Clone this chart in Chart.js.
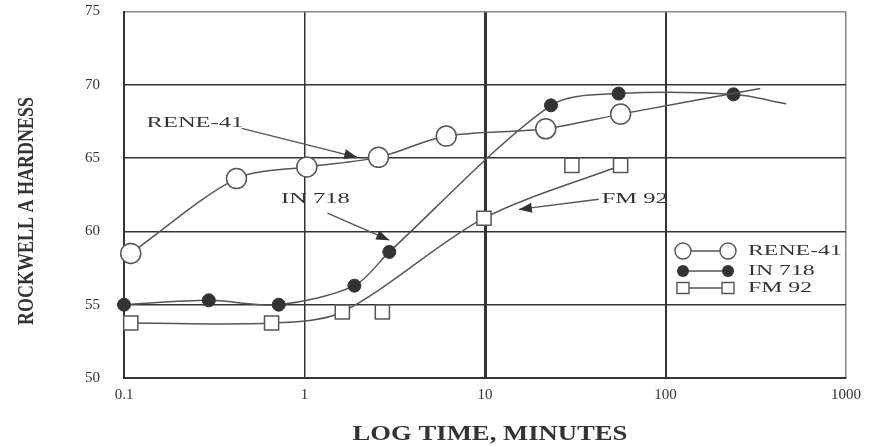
<!DOCTYPE html>
<html>
<head>
<meta charset="utf-8">
<script src="https://cdn.jsdelivr.net/npm/chart.js@4.4.1/dist/chart.umd.min.js"></script>
<style>
  html, body { margin: 0; padding: 0; background: #fff; }
  #wrap { width: 880px; height: 446px; }
</style>
</head>
<body>
<div id="wrap"><canvas id="c"></canvas></div>
<script>
// tick values
const xTicks = [0.1, 1, 10, 100, 1000];
const yTicks = [50, 55, 60, 65, 70, 75];

// RENE-41 (open circles), last point is the curve end without a marker
const reneTime = [0.109, 0.42, 1.03, 2.57, 6.1, 21.7, 56.4, 335];
const reneHard = [58.5, 63.6, 64.4, 65.05, 66.5, 67.0, 68.0, 69.75];

// IN 718 (filled markers), last point is the curve end without a marker
const inTime = [0.1, 0.295, 0.72, 1.89, 2.95, 23.2, 55.0, 238, 466];
const inHard = [55.0, 55.3, 55.0, 56.3, 58.6, 68.6, 69.4, 69.35, 68.7];

// FM 92 (open squares) on the curve, plus two squares lying off it
const fmTime = [0.109, 0.657, 1.62, 9.87, 56.4];
const fmHard = [53.75, 53.75, 54.5, 60.9, 64.5];
const fmLooseTime = [2.7, 30.3];
const fmLooseHard = [54.5, 64.5];

// callout labels with arrows (data units)
const noteText = ['RENE-41', 'IN 718', 'FM 92'];
const noteTextX = [0.247, 1.15, 67.5];
const noteTextY = [67.37, 62.19, 62.19];
const noteFromX = [0.449, 1.34, 42.7];
const noteFromY = [67.03, 61.24, 62.19];
const noteToX = [1.96, 2.95, 15.4];
const noteToY = [65.05, 59.4, 61.5];

const seriesNames = ['RENE-41', 'IN 718', 'FM 92'];

const SERIF = "'Liberation Serif', 'DejaVu Serif', serif";
const INK = '#333';
const LINE = '#555';

const pts = (xs, ys) => xs.map((v, i) => ({ x: v, y: ys[i] }));

function stretchText(ctx, text, cx, cy, font, sx) {
  ctx.save();
  ctx.font = font;
  ctx.textAlign = 'center';
  ctx.textBaseline = 'middle';
  ctx.translate(cx, cy);
  ctx.scale(sx, 1);
  ctx.fillText(text, 0, 0);
  ctx.restore();
}

function drawMarker(ctx, kind, px, py) {
  ctx.beginPath();
  if (kind === 0) {
    ctx.arc(px, py, 8, 0, Math.PI * 2);
    ctx.fillStyle = '#fff';
    ctx.fill();
    ctx.stroke();
  } else if (kind === 1) {
    ctx.arc(px, py, 6, 0, Math.PI * 2);
    ctx.fillStyle = INK;
    ctx.fill();
  } else {
    ctx.rect(px - 6, py - 5.5, 12, 11);
    ctx.fillStyle = '#fff';
    ctx.fill();
    ctx.stroke();
  }
}

const overlay = {
  id: 'overlay',
  afterDraw(chart) {
    const { ctx, scales: { x, y } } = chart;
    ctx.save();
    ctx.fillStyle = INK;
    ctx.strokeStyle = LINE;
    ctx.lineWidth = 1.4;

    // callouts
    noteText.forEach((t, i) => {
      const x0 = x.getPixelForValue(noteFromX[i]), y0 = y.getPixelForValue(noteFromY[i]);
      const x1 = x.getPixelForValue(noteToX[i]), y1 = y.getPixelForValue(noteToY[i]);
      ctx.beginPath();
      ctx.moveTo(x0, y0);
      ctx.lineTo(x1, y1);
      ctx.stroke();
      const a = Math.atan2(y1 - y0, x1 - x0);
      ctx.beginPath();
      ctx.moveTo(x1, y1);
      ctx.lineTo(x1 - 13 * Math.cos(a) + 5 * Math.sin(a), y1 - 13 * Math.sin(a) - 5 * Math.cos(a));
      ctx.lineTo(x1 - 13 * Math.cos(a) - 5 * Math.sin(a), y1 - 13 * Math.sin(a) + 5 * Math.cos(a));
      ctx.closePath();
      ctx.fillStyle = INK;
      ctx.fill();
      stretchText(ctx, t, x.getPixelForValue(noteTextX[i]), y.getPixelForValue(noteTextY[i]),
        '14px ' + SERIF, 1.75);
    });

    // legend: marker - line - marker, then name
    const lx = 683, rx = 728, rows = [251, 271, 288];
    seriesNames.forEach((name, i) => {
      ctx.strokeStyle = LINE;
      ctx.lineWidth = 1.4;
      ctx.beginPath();
      ctx.moveTo(lx, rows[i]);
      ctx.lineTo(rx, rows[i]);
      ctx.stroke();
      drawMarker(ctx, i, lx, rows[i]);
      drawMarker(ctx, i, rx, rows[i]);
      ctx.fillStyle = INK;
      ctx.save();
      ctx.font = '14px ' + SERIF;
      ctx.textBaseline = 'middle';
      ctx.translate(748, rows[i]);
      ctx.scale(1.7, 1);
      ctx.fillText(name, 0, 0);
      ctx.restore();
    });

    // axis titles
    ctx.fillStyle = INK;
    stretchText(ctx, 'LOG TIME, MINUTES', 490, 435, 'bold 21px ' + SERIF, 1.27);
    ctx.save();
    ctx.translate(27, 211);
    ctx.rotate(-Math.PI / 2);
    ctx.scale(1, 1.3);
    ctx.font = 'bold 18px ' + SERIF;
    ctx.textAlign = 'center';
    ctx.textBaseline = 'middle';
    ctx.fillText('ROCKWELL A HARDNESS', 0, 0);
    ctx.restore();

    ctx.restore();
  }
};

new Chart(document.getElementById('c'), {
  type: 'line',
  data: {
    datasets: [
      {
        label: seriesNames[0],
        data: pts(reneTime, reneHard),
        borderColor: LINE,
        borderWidth: 1.5,
        pointStyle: 'circle',
        pointRadius: reneTime.map((v, i) => i === reneTime.length - 1 ? 0 : 10),
        pointBackgroundColor: '#fff',
        pointBorderColor: LINE,
        pointBorderWidth: 1.5,
        tension: 0.3,
        clip: false
      },
      {
        label: seriesNames[1],
        data: pts(inTime, inHard),
        borderColor: LINE,
        borderWidth: 1.5,
        pointStyle: 'circle',
        pointRadius: inTime.map((v, i) => i === inTime.length - 1 ? 0 : 6.5),
        pointBackgroundColor: INK,
        pointBorderColor: INK,
        pointBorderWidth: 1,
        tension: 0.3,
        clip: false
      },
      {
        label: seriesNames[2],
        data: pts(fmTime, fmHard),
        borderColor: LINE,
        borderWidth: 1.5,
        pointStyle: 'rect',
        pointRadius: 10,
        pointBackgroundColor: '#fff',
        pointBorderColor: LINE,
        pointBorderWidth: 1.5,
        tension: 0.3,
        clip: false
      },
      {
        label: 'FM 92 loose',
        data: pts(fmLooseTime, fmLooseHard),
        showLine: false,
        pointStyle: 'rect',
        pointRadius: 10,
        pointBackgroundColor: '#fff',
        pointBorderColor: LINE,
        pointBorderWidth: 1.5,
        clip: false
      }
    ]
  },
  options: {
    responsive: true,
    maintainAspectRatio: false,
    animation: false,
    layout: { padding: { left: 0, right: 34, top: 11, bottom: 0 } },
    plugins: {
      legend: { display: false },
      tooltip: { enabled: false }
    },
    scales: {
      x: {
        type: 'logarithmic',
        min: 0.1,
        max: 1000,
        afterBuildTicks: s => { s.ticks = xTicks.map(v => ({ value: v })); },
        afterFit: s => { s.height = 68; s.paddingLeft = 0; s.paddingRight = 0; },
        ticks: {
          color: INK,
          font: { family: SERIF, size: 15 },
          padding: 8,
          maxRotation: 0,
          callback: v => String(v)
        },
        grid: {
          drawTicks: false,
          color: c => c.tick && c.tick.value === 1000 ? '#888' : INK,
          lineWidth: c => c.tick && c.tick.value === 10 ? 3 : (c.tick && c.tick.value === 100 ? 2 : 1.5)
        },
        border: { display: true, color: INK, width: 2 }
      },
      y: {
        type: 'linear',
        min: 50,
        max: 75,
        afterBuildTicks: s => { s.ticks = yTicks.map(v => ({ value: v })); },
        afterFit: s => { s.width = 124; s.paddingTop = 8; s.paddingBottom = 8; },
        ticks: {
          color: INK,
          font: { family: SERIF, size: 15 },
          padding: 24
        },
        grid: {
          drawTicks: false,
          color: c => c.tick && c.tick.value === 75 ? '#888' : INK,
          lineWidth: 1.5
        },
        border: { display: true, color: INK, width: 2 }
      }
    }
  },
  plugins: [overlay]
});
</script>
</body>
</html>
